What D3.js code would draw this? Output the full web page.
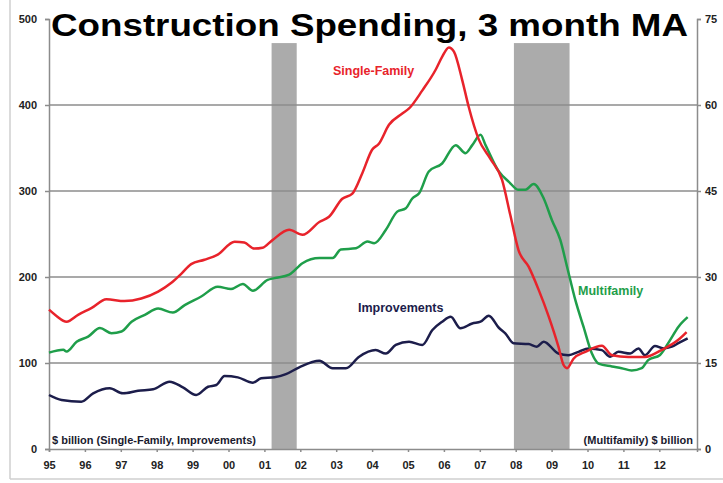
<!DOCTYPE html>
<html>
<head>
<meta charset="utf-8">
<script src="https://cdn.jsdelivr.net/npm/d3@7"></script>
<style>
    body { margin: 0; background: #fff; }
    svg text { font-family: 'Liberation Sans', Arial, sans-serif; }
</style>
</head>
<body>
<div id="chart"></div>
<script>
// Single-Family, $ billion (left axis)
const sfYears = [1995.0, 1995.2, 1995.49, 1995.81, 1996.19, 1996.6, 1997.1, 1997.57, 1998.04, 1998.4, 1998.69, 1998.96,
    1999.33, 1999.7, 2000.17, 2000.44, 2000.72, 2000.95, 2001.2, 2001.69, 2002.06, 2002.53, 2002.8, 2003.17, 2003.45,
    2003.73, 2004.0, 2004.19, 2004.47, 2004.84, 2005.03, 2005.4, 2005.77, 2005.95, 2006.14, 2006.28, 2006.51, 2006.69,
    2006.97, 2007.3, 2007.62, 2007.85, 2008.08, 2008.36, 2008.64, 2008.92, 2009.19, 2009.33, 2009.43, 2009.61, 2009.94,
    2010.4, 2010.68, 2011.14, 2011.6, 2012.06, 2012.53, 2012.76];
const sfValues = [162, 155, 148, 156, 164, 174, 172, 175, 183, 193, 204, 215,
    220, 226, 241, 240, 233, 234, 242, 255, 249, 264, 270, 291, 297,
    321, 348, 355, 377, 390, 396, 417, 441, 456, 467, 462, 429, 398,
    360, 337, 313, 272, 231, 212, 185, 154, 119, 98, 94, 105, 113,
    120, 109, 107, 107, 115, 127, 136];

// Multifamily, $ billion (right axis)
const mfYears = [1995.0, 1995.4, 1995.49, 1995.77, 1996.09, 1996.42, 1996.74, 1997.02, 1997.3, 1997.67, 1998.04, 1998.45,
    1998.78, 1999.24, 1999.7, 2000.07, 2000.4, 2000.68, 2001.09, 2001.28, 2001.69, 2002.06, 2002.53, 2002.9, 2003.13,
    2003.55, 2003.87, 2004.06, 2004.38, 2004.7, 2004.94, 2005.12, 2005.31, 2005.58, 2005.95, 2006.33, 2006.6, 2006.79,
    2007.02, 2007.16, 2007.53, 2007.81, 2008.08, 2008.27, 2008.5, 2008.78, 2009.01, 2009.24, 2009.43, 2009.66, 2009.89,
    2010.12, 2010.31, 2010.68, 2010.95, 2011.23, 2011.51, 2011.69, 2012.02, 2012.3, 2012.53, 2012.79];
const mfValues = [16.8, 17.3, 17.0, 18.7, 19.6, 21.1, 20.2, 20.5, 22.2, 23.4, 24.5, 23.8,
    25.1, 26.6, 28.3, 27.9, 28.8, 27.6, 29.5, 29.8, 30.4, 32.4, 33.3, 33.3, 34.8,
    35.0, 36.2, 35.9, 38.2, 41.4, 42.0, 43.7, 44.6, 48.4, 49.8, 53.0, 51.6, 53.0,
    54.8, 53.0, 48.4, 46.6, 45.2, 45.2, 46.2, 43.7, 39.9, 36.5, 31.8, 26.0, 21.3,
    16.7, 14.9, 14.4, 14.1, 13.7, 14.1, 15.5, 16.4, 19.0, 21.3, 23.0];

// Improvements, $ billion (left axis)
const impYears = [1995.0, 1995.35, 1995.9, 1996.23, 1996.69, 1997.06, 1997.48, 1997.9, 1998.36, 1998.73, 1999.1, 1999.43,
    1999.66, 1999.89, 2000.26, 2000.68, 2000.91, 2001.28, 2001.6, 2001.97, 2002.53, 2002.9, 2003.27, 2003.64, 2004.1,
    2004.38, 2004.66, 2005.03, 2005.4, 2005.68, 2005.95, 2006.19, 2006.46, 2006.79, 2007.02, 2007.25, 2007.53, 2007.71,
    2007.94, 2008.36, 2008.59, 2008.78, 2009.19, 2009.47, 2009.75, 2010.03, 2010.4, 2010.63, 2010.86, 2011.19, 2011.42,
    2011.6, 2011.88, 2012.11, 2012.35, 2012.53, 2012.79];
const impValues = [62.8, 57, 55, 64.7, 70.6, 64.7, 67.8, 69.4, 78.3, 71.7, 62.8, 72.4,
    74.4, 84.9, 83.3, 77.1, 82.2, 83.3, 87, 95, 102.7, 93.8, 93.8, 107.3, 115,
    111, 121, 124.8, 121, 138.4, 148, 153.8, 140.3, 146, 148, 155, 141, 134.5,
    123, 122, 119, 124.8, 111, 109, 113, 117, 115, 107.3, 113, 111, 117,
    109, 119.8, 117, 119, 123, 128.7];

// Recessions (start, end) in decimal years
const recessions = [[2001.2, 2001.9], [2007.95, 2009.5]];

// Tick values / labels
const yearTicks = d3.range(1995, 2013);
const yearLabels = ['95', '96', '97', '98', '99', '00', '01', '02', '03', '04', '05', '06', '07', '08', '09', '10', '11', '12'];
const leftTicks = [0, 100, 200, 300, 400, 500];
const rightTicks = [0, 15, 30, 45, 60, 75];

// Colours
const sf_color = '#e8232b';
const mf_color = '#1f9e4a';
const imp_color = '#1c1d4b';
const axis_color = '#8c8c8c';
const recession_color = '#ababab';

const width = 723;
const height = 483;

// Plot area
const plotLeft = 49, plotRight = 697, plotTop = 19, plotBottom = 449;

const xScale = d3.scaleLinear().domain([1995, 2013.05]).range([plotLeft, plotRight]);
const yLeft = d3.scaleLinear().domain([0, 500]).range([plotBottom, plotTop]);
const yRight = d3.scaleLinear().domain([0, 75]).range([plotBottom, plotTop]);

const svg = d3.select('#chart').append('svg')
    .attr('width', width)
    .attr('height', height);

// Light frame on the left and bottom of the picture
svg.append('line').attr('x1', 10).attr('x2', 10).attr('y1', 0).attr('y2', 479)
    .attr('stroke', '#cfcfcf').attr('stroke-width', 1.5);
svg.append('line').attr('x1', 10).attr('x2', width).attr('y1', 479).attr('y2', 479)
    .attr('stroke', '#cfcfcf').attr('stroke-width', 1.5);

// Recession bars
svg.selectAll('.recession')
    .data(recessions)
    .enter().append('rect')
    .attr('class', 'recession')
    .attr('x', d => xScale(d[0]))
    .attr('y', yLeft(472))
    .attr('width', d => xScale(d[1]) - xScale(d[0]))
    .attr('height', plotBottom - yLeft(472))
    .attr('fill', recession_color);

// Gridlines
svg.selectAll('.grid')
    .data(leftTicks.filter(t => t > 0 && t < 500))
    .enter().append('line')
    .attr('class', 'grid')
    .attr('x1', plotLeft).attr('x2', plotRight)
    .attr('y1', d => yLeft(d)).attr('y2', d => yLeft(d))
    .attr('stroke', axis_color)
    .attr('stroke-width', 1.5);

// Left axis
const leftAxis = svg.append('g')
    .attr('transform', `translate(${plotLeft}, 0)`)
    .call(d3.axisLeft(yLeft).tickValues(leftTicks).tickSize(4).tickPadding(8));

// Right axis
const rightAxis = svg.append('g')
    .attr('transform', `translate(${plotRight}, 0)`)
    .call(d3.axisRight(yRight).tickValues(rightTicks).tickSize(4).tickPadding(4));

// Bottom axis
const bottomAxis = svg.append('g')
    .attr('transform', `translate(0, ${plotBottom})`)
    .call(d3.axisBottom(xScale).tickValues(yearTicks).tickSize(3).tickPadding(9)
        .tickFormat((d, i) => yearLabels[i]));

[leftAxis, rightAxis, bottomAxis].forEach(g => {
    g.select('.domain').attr('stroke', axis_color).attr('stroke-width', 1.5);
    g.selectAll('.tick line').attr('stroke', axis_color).attr('stroke-width', 1.5);
    g.selectAll('.tick text')
        .attr('fill', '#222')
        .style('font-size', '11px')
        .style('font-weight', 'bold');
});

// Lines (slightly smoothed, the source is a moving average)
const leftLine = d3.line().curve(d3.curveMonotoneX).x(d => xScale(d[0])).y(d => yLeft(d[1]));
const rightLine = d3.line().curve(d3.curveMonotoneX).x(d => xScale(d[0])).y(d => yRight(d[1]));

svg.append('path')
    .datum(impYears.map((y, i) => [y, impValues[i]]))
    .attr('d', leftLine)
    .attr('fill', 'none')
    .attr('stroke', imp_color)
    .attr('stroke-width', 2.5)
    .attr('stroke-linejoin', 'round');

svg.append('path')
    .datum(mfYears.map((y, i) => [y, mfValues[i]]))
    .attr('d', rightLine)
    .attr('fill', 'none')
    .attr('stroke', mf_color)
    .attr('stroke-width', 2.5)
    .attr('stroke-linejoin', 'round');

svg.append('path')
    .datum(sfYears.map((y, i) => [y, sfValues[i]]))
    .attr('d', leftLine)
    .attr('fill', 'none')
    .attr('stroke', sf_color)
    .attr('stroke-width', 2.5)
    .attr('stroke-linejoin', 'round');

// Title
svg.append('text')
    .attr('x', 51)
    .attr('y', 36)
    .attr('textLength', 637)
    .attr('lengthAdjust', 'spacingAndGlyphs')
    .style('font-size', '32px')
    .style('font-weight', 'bold')
    .attr('fill', '#000')
    .text('Construction Spending, 3 month MA');

// Series labels
const seriesLabel = (x, y, color, txt) => svg.append('text')
    .attr('x', x).attr('y', y)
    .attr('fill', color)
    .style('font-size', '12.5px')
    .style('font-weight', 'bold')
    .text(txt);

seriesLabel(333, 75, sf_color, 'Single-Family');
seriesLabel(358, 312, imp_color, 'Improvements');
seriesLabel(578, 295, mf_color, 'Multifamily');

// Unit labels
svg.append('text')
    .attr('x', 52).attr('y', 444)
    .attr('fill', '#1a1a2e')
    .style('font-size', '11px')
    .style('font-weight', 'bold')
    .text('$ billion (Single-Family, Improvements)');

svg.append('text')
    .attr('x', 693).attr('y', 444)
    .attr('fill', '#1a1a2e')
    .style('font-size', '11px')
    .style('font-weight', 'bold')
    .style('text-anchor', 'end')
    .text('(Multifamily) $ billion');
</script>
</body>
</html>
